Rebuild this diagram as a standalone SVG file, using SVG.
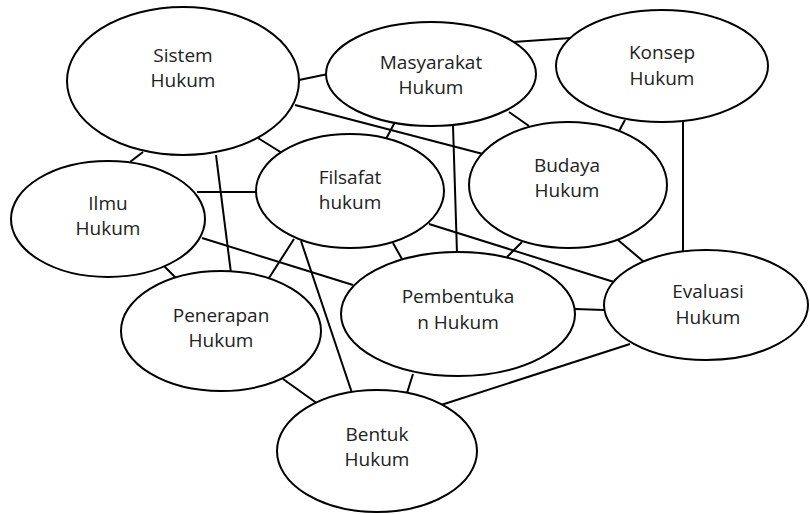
<svg xmlns="http://www.w3.org/2000/svg" width="810" height="514" viewBox="0 0 810 514">
  <style>
    .edge { stroke: #000; stroke-width: 2; fill: none; }
    .node ellipse { fill: #fff; stroke: #000; stroke-width: 2; }
    .node text { font-family: "Open Sans", "Noto Sans", sans-serif; font-size: 19px; fill: #222; text-anchor: middle; }
  </style>
  <rect width="810" height="514" fill="#fff"/>

  <g id="connectors">
    <line class="edge" x1="299" y1="80" x2="328" y2="74"/>
    <line class="edge" x1="295" y1="105" x2="483" y2="154"/>
    <line class="edge" x1="258" y1="138" x2="282" y2="153"/>
    <line class="edge" x1="143" y1="152" x2="130" y2="162"/>
    <line class="edge" x1="216" y1="155" x2="231" y2="273"/>
    <line class="edge" x1="395" y1="122" x2="386" y2="139"/>
    <line class="edge" x1="453" y1="126" x2="457" y2="253"/>
    <line class="edge" x1="509" y1="112" x2="529" y2="126"/>
    <line class="edge" x1="513" y1="42" x2="571" y2="38"/>
    <line class="edge" x1="625" y1="120" x2="619" y2="131"/>
    <line class="edge" x1="683" y1="121" x2="683" y2="252"/>
    <line class="edge" x1="197" y1="192" x2="257" y2="192"/>
    <line class="edge" x1="202" y1="238" x2="353" y2="285"/>
    <line class="edge" x1="164" y1="266" x2="176" y2="278"/>
    <line class="edge" x1="294" y1="239" x2="269" y2="278"/>
    <line class="edge" x1="301" y1="241" x2="352" y2="393"/>
    <line class="edge" x1="393" y1="243" x2="402" y2="259"/>
    <line class="edge" x1="429" y1="224" x2="614" y2="282"/>
    <line class="edge" x1="522" y1="242" x2="507" y2="257"/>
    <line class="edge" x1="618" y1="240" x2="644" y2="262"/>
    <line class="edge" x1="575" y1="309" x2="604" y2="310"/>
    <line class="edge" x1="630" y1="344" x2="441" y2="405"/>
    <line class="edge" x1="413" y1="374" x2="407" y2="393"/>
    <line class="edge" x1="283" y1="379" x2="318" y2="404"/>
  </g>

  <g id="sistem-hukum" class="node">
    <ellipse cx="183" cy="81" rx="116" ry="74"/>
    <text x="183" y="62">Sistem</text>
    <text x="183" y="87">Hukum</text>
  </g>
  <g id="masyarakat-hukum" class="node">
    <ellipse cx="431" cy="74" rx="105" ry="52"/>
    <text x="431" y="69">Masyarakat</text>
    <text x="431" y="94">Hukum</text>
  </g>
  <g id="konsep-hukum" class="node">
    <ellipse cx="662" cy="66" rx="106" ry="56"/>
    <text x="662" y="59">Konsep</text>
    <text x="662" y="85">Hukum</text>
  </g>
  <g id="ilmu-hukum" class="node">
    <ellipse cx="108" cy="219" rx="97" ry="58"/>
    <text x="108" y="210">Ilmu</text>
    <text x="108" y="235">Hukum</text>
  </g>
  <g id="filsafat-hukum" class="node">
    <ellipse cx="350" cy="191" rx="94" ry="57"/>
    <text x="350" y="184">Filsafat</text>
    <text x="350" y="209">hukum</text>
  </g>
  <g id="budaya-hukum" class="node">
    <ellipse cx="568" cy="185" rx="99" ry="63"/>
    <text x="567" y="172">Budaya</text>
    <text x="567" y="197">Hukum</text>
  </g>
  <g id="evaluasi-hukum" class="node">
    <ellipse cx="706" cy="305" rx="102" ry="55"/>
    <text x="708" y="298">Evaluasi</text>
    <text x="708" y="324">Hukum</text>
  </g>
  <g id="penerapan-hukum" class="node">
    <ellipse cx="221" cy="331" rx="100" ry="60"/>
    <text x="221" y="322">Penerapan</text>
    <text x="221" y="347">Hukum</text>
  </g>
  <g id="pembentukan-hukum" class="node">
    <ellipse cx="458" cy="314" rx="117" ry="62"/>
    <text x="458" y="303">Pembentuka</text>
    <text x="458" y="329">n Hukum</text>
  </g>
  <g id="bentuk-hukum" class="node">
    <ellipse cx="377" cy="451" rx="100" ry="61"/>
    <text x="377" y="441">Bentuk</text>
    <text x="377" y="466">Hukum</text>
  </g>
</svg>
